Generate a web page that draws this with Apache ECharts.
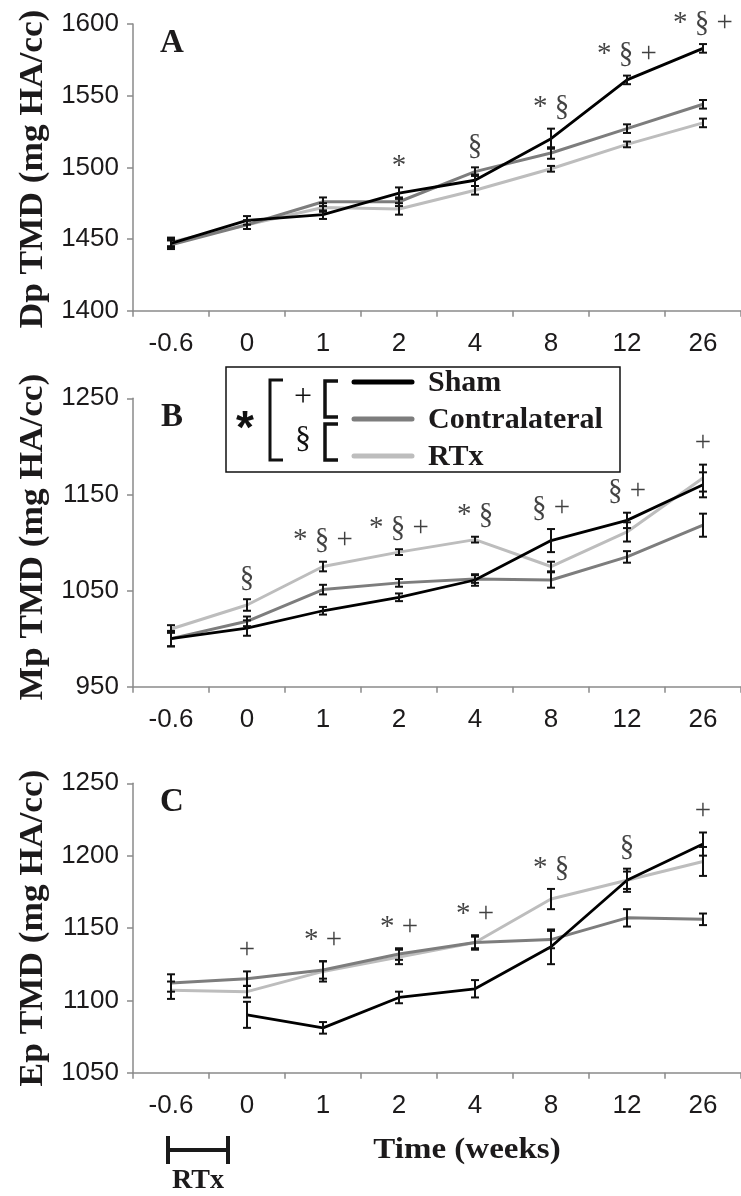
<!DOCTYPE html>
<html>
<head>
<meta charset="utf-8">
<script src="https://cdn.jsdelivr.net/npm/echarts@6/dist/echarts.min.js"></script>
<style>
  html, body { margin: 0; padding: 0; background: #fff; }
  #chart { width: 741px; height: 1196px; }
</style>
</head>
<body>
<div id="chart"></div>
<script>
// x categories (weeks)
const weeks = ["-0.6", "0", "1", "2", "4", "8", "12", "26"];

// panel A - Dp TMD
const dpSham = [1447, 1463, 1467, 1482, 1491, 1520, 1561, 1583];
const dpShamErr = [3, 3, 3, 4, 4, 7, 3, 3];
const dpContra = [1446, 1460, 1476, 1476, 1497, 1510, 1527, 1544];
const dpContraErr = [3, 3, 3, 3, 3, 4, 3, 3];
const dpRtx = [1448, 1460, 1472, 1471, 1484, 1499, 1516, 1531];
const dpRtxErr = [3, 3, 3, 4, 3, 2, 2, 3];
const dpSig = ["", "", "", "*", "§", "* §", "* § +", "* § +"];

// panel B - Mp TMD
const mpSham = [1000, 1011, 1029, 1043, 1061, 1102, 1123, 1160];
const mpShamErr = [8, 8, 4, 4, 6, 12, 8, 13];
const mpContra = [1000, 1018, 1051, 1058, 1062, 1061, 1085, 1118];
const mpContraErr = [8, 5, 5, 4, 4, 8, 6, 12];
const mpRtx = [1010, 1035, 1075, 1090, 1103, 1075, 1111, 1167];
const mpRtxErr = [4, 6, 5, 3, 3, 5, 10, 14];
const mpSig = ["", "§", "* § +", "* § +", "* §", "§ +", "§ +", "+"];

// panel C - Ep TMD
const epSham = [null, 1090, 1081, 1102, 1108, 1137, 1183, 1208];
const epShamErr = [null, 9, 4, 4, 6, 12, 8, 8];
const epContra = [1112, 1115, 1121, 1132, 1140, 1142, 1157, 1156];
const epContraErr = [6, 5, 6, 4, 4, 6, 6, 4];
const epRtx = [1107, 1106, 1120, 1130, 1140, 1170, 1183, 1196];
const epRtxErr = [6, 4, 7, 5, 5, 7, 6, 10];
const epSig = ["", "+", "* +", "* +", "* +", "* §", "§", "+"];

// y axis ranges
const yMin = [1400, 950, 1050];
const yMax = [1600, 1250, 1250];
const yStep = [50, 100, 50];
const panelLetters = ["A", "B", "C"];
const yTitles = ["Dp TMD (mg HA/cc)", "Mp TMD (mg HA/cc)", "Ep TMD (mg HA/cc)"];

const panels = [
  { sham: dpSham, shamErr: dpShamErr, contra: dpContra, contraErr: dpContraErr, rtx: dpRtx, rtxErr: dpRtxErr, sig: dpSig },
  { sham: mpSham, shamErr: mpShamErr, contra: mpContra, contraErr: mpContraErr, rtx: mpRtx, rtxErr: mpRtxErr, sig: mpSig },
  { sham: epSham, shamErr: epShamErr, contra: epContra, contraErr: epContraErr, rtx: epRtx, rtxErr: epRtxErr, sig: epSig }
];

const gridTops = [24, 398.3, 783.3];
const gridHeights = [286.7, 288.4, 289.4];
const titleCenters = [169, 537, 928];

const axisGray = "#8a8a8a";
const ink = "#1c1a1b";
const serif = "'Liberation Serif', 'Times New Roman', serif";
const sans = "'Liberation Sans', Arial, sans-serif";

function errRender(params, api) {
  const x = api.value(0);
  const top = api.coord([x, api.value(2)]);
  const bot = api.coord([x, api.value(1)]);
  const w = 4;
  const st = { stroke: "#111", lineWidth: 2 };
  return {
    type: "group",
    children: [
      { type: "line", shape: { x1: top[0] - w, y1: top[1], x2: top[0] + w, y2: top[1] }, style: st },
      { type: "line", shape: { x1: top[0], y1: top[1], x2: bot[0], y2: bot[1] }, style: st },
      { type: "line", shape: { x1: bot[0] - w, y1: bot[1], x2: bot[0] + w, y2: bot[1] }, style: st }
    ]
  };
}

function errData(vals, errs) {
  const out = [];
  vals.forEach((v, i) => {
    if (v == null) return;
    out.push([i, v - errs[i], v + errs[i]]);
  });
  return out;
}

const grid = [], xAxis = [], yAxis = [], series = [], graphic = [];

panels.forEach((p, k) => {
  grid.push({ left: 133, right: 0, top: gridTops[k], height: gridHeights[k] });
  xAxis.push({
    type: "category", gridIndex: k, data: weeks, boundaryGap: true,
    axisLine: { lineStyle: { color: axisGray, width: 1.5 } },
    axisTick: { show: true, length: 6, lineStyle: { color: axisGray, width: 1.5 } },
    axisLabel: { fontSize: 26, fontFamily: sans, color: ink, margin: 20 }
  });
  yAxis.push({
    type: "value", gridIndex: k, min: yMin[k], max: yMax[k], interval: yStep[k],
    axisLine: { show: true, lineStyle: { color: axisGray, width: 1.5 } },
    axisTick: { show: true, length: 6, lineStyle: { color: axisGray, width: 1.5 } },
    splitLine: { show: false },
    axisLabel: { fontSize: 26, fontFamily: sans, color: ink, margin: 14, formatter: v => String(v) }
  });

  const lines = [
    { name: "RTx", data: p.rtx, color: "#bdbdbd" },
    { name: "Contralateral", data: p.contra, color: "#7d7d7d" },
    { name: "Sham", data: p.sham, color: "#000000" }
  ];
  lines.forEach(l => {
    series.push({
      type: "line", name: l.name, xAxisIndex: k, yAxisIndex: k, data: l.data,
      showSymbol: false, symbol: "none", connectNulls: false, animation: false,
      lineStyle: { color: l.color, width: l.color === "#000000" ? 2.8 : 3 }, z: 2
    });
  });

  [[p.rtx, p.rtxErr], [p.contra, p.contraErr], [p.sham, p.shamErr]].forEach(pair => {
    series.push({
      type: "custom", xAxisIndex: k, yAxisIndex: k, renderItem: errRender,
      data: errData(pair[0], pair[1]), encode: { x: 0, y: [1, 2] }, z: 3, animation: false, silent: true
    });
  });

  // significance marks sit above the highest error bar at each week
  const sigData = [];
  p.sig.forEach((s, i) => {
    if (!s) return;
    const tops = [
      p.sham[i] == null ? -Infinity : p.sham[i] + p.shamErr[i],
      p.contra[i] + p.contraErr[i],
      p.rtx[i] + p.rtxErr[i]
    ];
    sigData.push([i, Math.max.apply(null, tops), s]);
  });
  series.push({
    type: "scatter", xAxisIndex: k, yAxisIndex: k, data: sigData, symbolSize: 1,
    itemStyle: { color: "rgba(0,0,0,0)" }, silent: true, animation: false, z: 4,
    label: {
      show: true, position: "top", distance: 6, formatter: d => d.value[2],
      fontFamily: serif, fontSize: 29, color: "#111"
    }
  });

  graphic.push({
    type: "text", x: 172, y: gridTops[k] + 19,
    style: { text: panelLetters[k], font: "bold 33px " + serif, fill: ink, align: "center", verticalAlign: "middle" }
  });
  graphic.push({
    type: "text", x: 33, y: titleCenters[k], rotation: Math.PI / 2, scaleX: 1.07,
    style: { text: yTitles[k], font: "bold 33px " + serif, fill: ink, align: "center", verticalAlign: "middle" }
  });
});

// legend box in panel B
graphic.push(
  { type: "rect", shape: { x: 226, y: 367, width: 394, height: 105 }, style: { fill: "#fff", stroke: "#111", lineWidth: 1.5 }, z: 10 },
  { type: "text", x: 245, y: 430, z: 11, style: { text: "*", font: "bold 46px " + sans, fill: "#111", align: "center", verticalAlign: "middle" } },
  { type: "polyline", z: 11, shape: { points: [[283, 380], [270, 380], [270, 460], [283, 460]] }, style: { stroke: "#111", lineWidth: 3, fill: null } },
  { type: "text", x: 303, y: 398, z: 11, style: { text: "+", font: "32px " + serif, fill: "#111", align: "center", verticalAlign: "middle" } },
  { type: "text", x: 303, y: 440, z: 11, style: { text: "§", font: "32px " + serif, fill: "#111", align: "center", verticalAlign: "middle" } },
  { type: "polyline", z: 11, shape: { points: [[338, 381], [325, 381], [325, 417], [338, 417]] }, style: { stroke: "#111", lineWidth: 3.5, fill: null } },
  { type: "polyline", z: 11, shape: { points: [[338, 424], [325, 424], [325, 460], [338, 460]] }, style: { stroke: "#111", lineWidth: 3.5, fill: null } },
  { type: "line", z: 11, shape: { x1: 354, y1: 382, x2: 412, y2: 382 }, style: { stroke: "#000", lineWidth: 5, lineCap: "round" } },
  { type: "line", z: 11, shape: { x1: 354, y1: 419, x2: 412, y2: 419 }, style: { stroke: "#7d7d7d", lineWidth: 5, lineCap: "round" } },
  { type: "line", z: 11, shape: { x1: 354, y1: 456, x2: 412, y2: 456 }, style: { stroke: "#bdbdbd", lineWidth: 5, lineCap: "round" } },
  { type: "text", x: 428, y: 383, z: 11, style: { text: "Sham", font: "bold 30px " + serif, fill: ink, verticalAlign: "middle" } },
  { type: "text", x: 428, y: 420, z: 11, style: { text: "Contralateral", font: "bold 30px " + serif, fill: ink, verticalAlign: "middle" } },
  { type: "text", x: 428, y: 457, z: 11, style: { text: "RTx", font: "bold 30px " + serif, fill: ink, verticalAlign: "middle" } }
);

// x axis title and RTx period marker
graphic.push(
  { type: "text", x: 467, y: 1150, scaleX: 1.1, style: { text: "Time (weeks)", font: "bold 30px " + serif, fill: ink, align: "center", verticalAlign: "middle" } },
  { type: "line", shape: { x1: 168, y1: 1150, x2: 228, y2: 1150 }, style: { stroke: "#1a1a1a", lineWidth: 4 } },
  { type: "line", shape: { x1: 168, y1: 1136, x2: 168, y2: 1164 }, style: { stroke: "#1a1a1a", lineWidth: 4 } },
  { type: "line", shape: { x1: 228, y1: 1136, x2: 228, y2: 1164 }, style: { stroke: "#1a1a1a", lineWidth: 4 } },
  { type: "text", x: 198, y: 1181, style: { text: "RTx", font: "bold 28px " + serif, fill: ink, align: "center", verticalAlign: "middle" } }
);

const chart = echarts.init(document.getElementById("chart"));
chart.setOption({
  animation: false,
  backgroundColor: "#fff",
  grid: grid,
  xAxis: xAxis,
  yAxis: yAxis,
  series: series,
  graphic: graphic
});
</script>
</body>
</html>
